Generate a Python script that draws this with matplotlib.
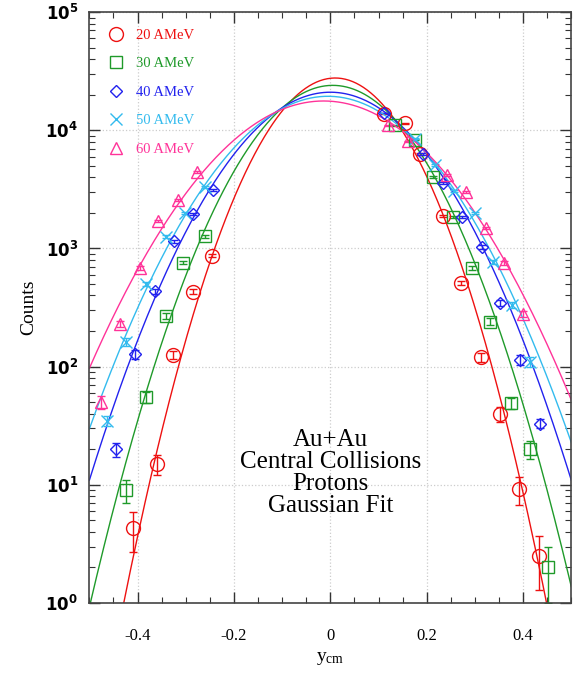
import numpy as np
import matplotlib
matplotlib.use("Agg")
import matplotlib.pyplot as plt
from matplotlib.lines import Line2D
from matplotlib.ticker import LogLocator, MultipleLocator, NullFormatter

plt.rcParams['font.family'] = ['Liberation Serif', 'DejaVu Serif']
plt.rcParams['mathtext.fontset'] = 'custom'
plt.rcParams['mathtext.rm'] = 'Liberation Serif'

# beam energies and data
labels = ["20 AMeV", "30 AMeV", "40 AMeV", "50 AMeV", "60 AMeV"]

x20 = [-0.409, -0.359, -0.326, -0.286, -0.245, 0.112, 0.154, 0.187, 0.234, 0.272, 0.313, 0.353, 0.392, 0.432]
y20 = [4.3, 15, 125, 430, 870, 13800, 11500, 6300, 1880, 510, 120, 40, 9.2, 2.5]
e20 = [1.6, 3, 10, 20, 30, 120, 110, 80, 45, 22, 11, 6, 2.4, 1.2]

x30 = [-0.423, -0.382, -0.340, -0.305, -0.261, 0.135, 0.176, 0.214, 0.255, 0.295, 0.332, 0.375, 0.415, 0.452]
y30 = [9, 55, 270, 760, 1270, 11000, 8300, 4000, 1850, 680, 240, 49, 20, 2.0]
e30 = [2, 6, 16, 28, 36, 110, 90, 65, 45, 27, 16, 5, 3.3, 1.0]

x40 = [-0.444, -0.405, -0.363, -0.324, -0.284, -0.243, 0.112, 0.193, 0.234, 0.274, 0.315, 0.353, 0.394, 0.436]
y40 = [20, 128, 435, 1150, 1960, 3100, 14000, 6300, 3560, 1850, 1030, 345, 114, 33]
e40 = [2.7, 11, 21, 34, 44, 56, 120, 80, 60, 43, 32, 19, 11, 3]

x50 = [-0.463, -0.423, -0.382, -0.340, -0.301, -0.261, 0.176, 0.218, 0.257, 0.301, 0.338, 0.378, 0.415]
y50 = [35, 162, 500, 1260, 1990, 3300, 8500, 5100, 3070, 2000, 770, 332, 110]
e50 = [3.5, 12, 22, 35, 45, 57, 90, 70, 55, 45, 28, 18, 10]

x60 = [-0.475, -0.436, -0.396, -0.357, -0.317, -0.276, 0.120, 0.162, 0.243, 0.282, 0.322, 0.361, 0.400]
y60 = [50, 230, 680, 1700, 2560, 4440, 11000, 8100, 4170, 3000, 1490, 750, 278]
e60 = [6, 15, 26, 41, 50, 66, 105, 90, 64, 55, 39, 27, 16]

# gaussian fit parameters (amplitude, centre, sigma)
fit_amp = [27700, 24000, 21000, 19400, 17700]
fit_mu = [0.010, 0.005, 0.000, -0.005, -0.014]
fit_sigma = [0.0970, 0.1120, 0.1286, 0.1375, 0.1506]

colors = ['#ee1111', '#1f9a2a', '#2222ee', '#33bbee', '#ff3399']
markers = ['o', 's', 'D', 'x', '^']
msizes = [10, 8.5, 6, 9, 8]

xs = [x20, x30, x40, x50, x60]
ys = [y20, y30, y40, y50, y60]
es = [e20, e30, e40, e50, e60]

fig = plt.figure(figsize=(5.73, 6.73), dpi=100)
ax = fig.add_axes([0.156, 0.104, 0.841, 0.878])

xx = np.linspace(-0.5, 0.5, 400)
handles = []
for i in range(5):
    curve = fit_amp[i] * np.exp(-(xx - fit_mu[i]) ** 2 / (2 * fit_sigma[i] ** 2))
    ax.plot(xx, curve, color=colors[i], lw=1.0)
    ax.errorbar(xs[i], ys[i], yerr=es[i], fmt=markers[i], color=colors[i],
                mfc='none', mec=colors[i], ms=msizes[i], mew=1.0,
                elinewidth=1.0, capsize=3)
    handles.append(Line2D([], [], ls='none', marker=markers[i], mfc='none',
                          mec=colors[i], ms=msizes[i], mew=1.0, label=labels[i]))

ax.set_yscale('log')
ax.set_xlim(-0.5, 0.5)
ax.set_ylim(1, 1e5)

ax.xaxis.set_minor_locator(MultipleLocator(0.05))
ax.set_xticks([-0.4, -0.2, 0, 0.2, 0.4])
ax.set_xticklabels(['-0.4', '-0.2', '0', '0.2', '0.4'])
ax.yaxis.set_minor_locator(LogLocator(base=10, subs=np.arange(2, 10), numticks=10))
ax.yaxis.set_minor_formatter(NullFormatter())
ax.set_yticks([1, 10, 100, 1e3, 1e4, 1e5])
ax.set_yticklabels([r'$\mathbf{10^{%d}}$' % k for k in range(6)])

ax.tick_params(which='both', direction='in', top=True, right=True, color='#333333')
ax.tick_params(which='major', length=8, width=1)
ax.tick_params(which='minor', length=4, width=0.8)
ax.tick_params(axis='x', pad=18, labelsize=12)
ax.tick_params(axis='y', pad=8, labelsize=12)
for sp in ax.spines.values():
    sp.set_color('#444444')
    sp.set_linewidth(1.2)

ax.grid(True, which='major', color='#cccccc', linestyle=':', lw=0.9)

ax.set_xlabel(r'$\mathrm{y_{cm}}$', fontsize=14, labelpad=4)
ax.set_ylabel('Counts', fontsize=14, labelpad=6)

ax.text(0.0, 12.5, "Au+Au\nCentral Collisions\nProtons\nGaussian Fit",
        ha='center', va='center', fontsize=18, linespacing=1.0)

leg = ax.legend(handles=handles, loc='upper left', frameon=False, fontsize=10.5,
                handletextpad=0.8, labelspacing=1.05, borderaxespad=0.0,
                bbox_to_anchor=(0.025, 0.982), handlelength=1.2)
for txt, c in zip(leg.get_texts(), colors):
    txt.set_color(c)

fig.savefig('out.png', dpi=100)
